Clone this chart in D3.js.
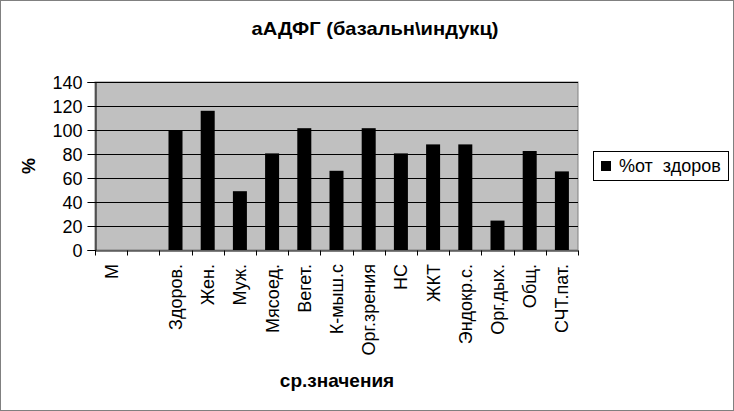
<!DOCTYPE html>
<html><head><meta charset="utf-8">
<script src="https://cdn.jsdelivr.net/npm/d3@7"></script>
<style>body{margin:0;background:#fff}svg{display:block;font-family:"Liberation Sans",Arial,sans-serif}</style>
</head><body>
<script>
const categories = ["М", "", "Здоров.", "Жен.", "Муж.", "Мясоед.", "Вегет.", "К-мыш.с", "Орг.зрения", "НС", "ЖКТ", "Эндокр.с.", "Орг.дых.", "Общ.", "СЧТ.пат."];
const values = [null, null, 100, 116, 49, 80.5, 101.5, 66, 101.5, 80.5, 88, 88, 24.5, 82.5, 65.5];
const yTicks = [0, 20, 40, 60, 80, 100, 120, 140];
const seriesName = "%от  здоров";
const title = "аАДФГ (базальн\\индукц)";
const xTitle = "ср.значения";
const yTitle = "%";

const W = 734, H = 411;
const m = {l: 95, r: 156, t: 82, b: 161};
const svg = d3.select("body").append("svg").attr("width", W).attr("height", H);
svg.append("rect").attr("x", 0.5).attr("y", 0.5).attr("width", W - 1).attr("height", H - 1)
  .attr("fill", "#fff").attr("stroke", "#808080");

const x = d3.scaleBand().domain(categories.map((d, i) => i)).range([m.l, W - m.r]).paddingInner(0.565).paddingOuter(0.2825);
const xb = d3.scaleBand().domain(categories.map((d, i) => i)).range([m.l, W - m.r]);
const y = d3.scaleLinear().domain([0, 140]).range([H - m.b, m.t]);

svg.append("rect").attr("x", m.l).attr("y", m.t).attr("width", W - m.r - m.l).attr("height", H - m.b - m.t)
  .attr("fill", "#c0c0c0").attr("stroke", "#808080");

svg.append("g").selectAll("line").data(yTicks.filter(d => d > 0)).join("line")
  .attr("x1", m.l).attr("x2", W - m.r).attr("y1", d => y(d) + 0.5).attr("y2", d => y(d) + 0.5)
  .attr("stroke", "#000").attr("stroke-width", 1);

svg.append("g").selectAll("rect").data(values.map((v, i) => ({v, i})).filter(d => d.v != null)).join("rect")
  .attr("x", d => x(d.i)).attr("width", x.bandwidth())
  .attr("y", d => y(d.v)).attr("height", d => y(0) - y(d.v)).attr("fill", "#000");

// y axis
const ya = svg.append("g").attr("transform", `translate(${m.l + 0.5},0)`)
  .call(d3.axisLeft(y).tickValues(yTicks).tickSize(8).tickPadding(5));
ya.select(".domain").attr("stroke", "#000");
ya.selectAll("text").attr("font-size", 18).attr("fill", "#000").attr("dy", "0.35em");

// x axis
const xa = svg.append("g").attr("transform", `translate(0,${H - m.b + 0.5})`)
  .call(d3.axisBottom(xb).tickValues([]).tickSizeOuter(0));
xa.select(".domain").attr("stroke", "#000");
const tickPos = d3.range(categories.length + 1).map(i => m.l + i * xb.step());
xa.selectAll("line.tk").data(tickPos).join("line").attr("class", "tk")
  .attr("x1", d => Math.round(d) + 0.5).attr("x2", d => Math.round(d) + 0.5).attr("y1", 0).attr("y2", 5).attr("stroke", "#000");
svg.append("g").selectAll("text").data(categories.map((c, i) => ({c, i}))).join("text")
  .attr("transform", d => `translate(${xb(d.i) + xb.bandwidth() / 2 + 6.5},${H - m.b + 14}) rotate(-90)`)
  .attr("text-anchor", "end").attr("font-size", 18).text(d => d.c);

svg.append("text").attr("x", 375).attr("y", 35).attr("text-anchor", "middle")
  .attr("font-size", 19).attr("font-weight", "bold").attr("textLength", 247).attr("lengthAdjust", "spacingAndGlyphs").text(title);
svg.append("text").attr("x", 337).attr("y", 387).attr("text-anchor", "middle")
  .attr("font-size", 19).attr("font-weight", "bold").text(xTitle);
svg.append("text").attr("transform", `translate(35,${(m.t + H - m.b) / 2}) rotate(-90)`).attr("text-anchor", "middle")
  .attr("font-size", 18).attr("font-weight", "bold").text(yTitle);

// legend
const lg = svg.append("g");
lg.append("rect").attr("x", 593.5).attr("y", 151.5).attr("width", 135).attr("height", 29).attr("fill", "#fff").attr("stroke", "#000");
lg.append("rect").attr("x", 601).attr("y", 161).attr("width", 10).attr("height", 10).attr("fill", "#000");
lg.append("text").attr("x", 619).attr("y", 172).attr("font-size", 18).attr("xml:space", "preserve").style("white-space", "pre").text(seriesName);
</script>
</body></html>
